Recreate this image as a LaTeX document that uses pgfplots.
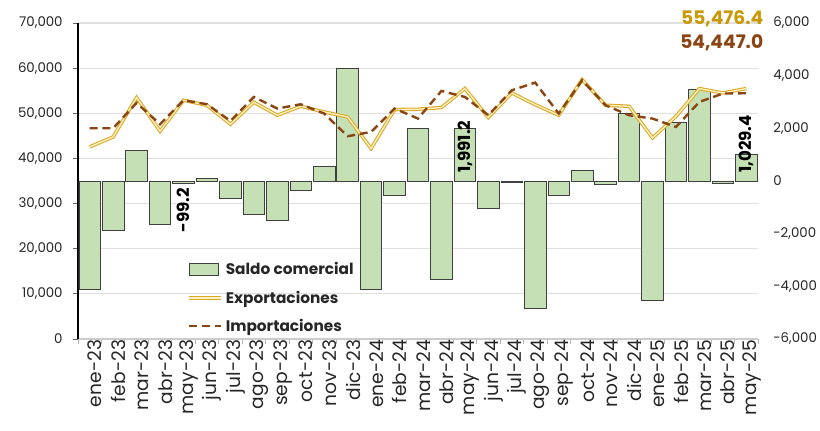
\documentclass[border=0pt]{standalone}
\usepackage{fontspec}
\setmainfont{Poppins}
\usepackage{pgfplots}
\pgfplotsset{compat=1.18}
\definecolor{barfill}{HTML}{C5E0B4}
\definecolor{baredge}{HTML}{404040}
\definecolor{expline}{HTML}{D9A92A}
\definecolor{expinner}{HTML}{FFF2C0}
\definecolor{explabel}{HTML}{C99A06}
\definecolor{impline}{HTML}{8B4513}
\definecolor{implabel}{HTML}{8B4513}

\pgfplotstableread{
x exp imp sal
0 42560 46690 -4100
1 44770 46690 -1890
2 53480 52300 1160
3 46030 47580 -1630
4 52890 52890 -99.2
5 51780 52000 90
6 47580 48310 -650
7 52450 53620 -1250
8 49570 51050 -1500
9 51560 52000 -360
10 50300 49940 570
11 49190 44920 4280
12 42200 45870 -4100
13 50830 51050 -560
14 50900 48830 2010
15 51270 54950 -3750
16 55480 53620 1991.2
17 49060 49570 -1050
18 54510 55100 -40
19 51900 56800 -4850
20 49570 49940 -560
21 57460 57310 390
22 51780 51780 -140
23 51560 49570 2580
24 44550 48830 -4550
25 49300 46980 2230
26 55480 52520 3470
27 54510 54370 -80
28 55476.4 54447.0 1029.4
}\datatable

\pgfplotsset{
  base/.style={
    scale only axis, width=510pt, height=237pt,
    xmin=-0.5, xmax=28.5, clip=false,
    tick label style={font=\fontsize{10}{12}\selectfont, text=black!85},
    /pgf/number format/.cd, 1000 sep={,}, assume math mode=true,
    /pgfplots/.cd,
    scaled y ticks=false,
  },
  lineleg/.style={legend image code/.code={\draw[##1] (0pt,0pt) -- (24pt,0pt);}},
}

\begin{document}
\begin{tikzpicture}
\useasboundingbox (-58.5pt,-68.25pt) rectangle (556.5pt,254.25pt);

% left axis: grid, axis line, ticks
\begin{axis}[base,
  ymin=0, ymax=70000, ytick={0,10000,...,70000},
  ymajorgrids, grid style={black!12, line width=0.9pt},
  axis x line*=bottom, axis y line*=left,
  y axis line style={black, line width=0.8pt},
  x axis line style={black!20, line width=0.9pt},
  xtick={-0.5,0.5,...,28.5}, xticklabels={},
  tick align=outside, major tick length=4pt,
  x tick style={black!30, line width=0.6pt},
  y tick style={black!60, line width=0.6pt},
  yticklabel style={xshift=-4pt},
]
\end{axis}

% right axis: bars
\begin{axis}[base,
  ymin=-6000, ymax=6000, ytick={-6000,-4000,...,6000},
  axis y line*=right, axis x line=none,
  y axis line style={draw=none}, y tick style={draw=none},
  yticklabel style={anchor=west, xshift=8pt},
  ybar, bar width=0.92,
]
\addplot[fill=barfill, draw=baredge, line width=0.6pt] table[x=x, y=sal] {\datatable};
\node[rotate=90, anchor=east, inner xsep=3pt, font=\bfseries\fontsize{12.5}{14}\selectfont] at (axis cs:4,-99.2) {-99.2};
\node[rotate=90, anchor=west, inner xsep=6pt, font=\bfseries\fontsize{12.5}{14}\selectfont] at (axis cs:16,0) {1,991.2};
\node[rotate=90, anchor=west, inner xsep=6pt, font=\bfseries\fontsize{12.5}{14}\selectfont] at (axis cs:28,0) {1,029.4};
\end{axis}

% left axis: lines, x labels, legend
\begin{axis}[base,
  ymin=0, ymax=70000, ytick=\empty,
  axis line style={draw=none},
  xtick={0,...,28},
  xticklabels={ene-23,feb-23,mar-23,abr-23,may-23,jun-23,jul-23,ago-23,sep-23,oct-23,nov-23,dic-23,ene-24,feb-24,mar-24,abr-24,may-24,jun-24,jul-24,ago-24,sep-24,oct-24,nov-24,dic-24,ene-25,feb-25,mar-25,abr-25,may-25},
  x tick style={draw=none},
  xticklabel style={rotate=90, anchor=east, font=\fontsize{14}{15}\selectfont, inner sep=0.5pt, yshift=-4pt},
  legend style={draw=none, fill=none, at={(0.155,0.26)}, anchor=north west,
    font=\bfseries\fontsize{11.5}{13}\selectfont, row sep=6.5pt, cells={anchor=west},
    text=black!85},
  legend cell align=left,
]
\addlegendimage{legend image code/.code={\draw[fill=barfill, draw=baredge, line width=0.6pt] (0pt,-4.5pt) rectangle (22pt,4.5pt);}}
\addlegendentry{Saldo comercial}
\addplot[draw=expline, double=expinner, double distance=1pt, line width=0.8pt, lineleg] table[x=x, y=exp] {\datatable};
\addlegendentry{Exportaciones}
\addplot[impline, line width=1.8pt, dash pattern=on 6pt off 3.5pt, lineleg] table[x=x, y=imp] {\datatable};
\addlegendentry{Importaciones}
\node[anchor=east, inner sep=0pt, text=explabel, font=\bfseries\fontsize{14}{16}\selectfont] at (rel axis cs:1.008,1.015) {55,476.4};
\node[anchor=east, inner sep=0pt, text=implabel, font=\bfseries\fontsize{14}{16}\selectfont] at (rel axis cs:1.008,0.938) {54,447.0};
\end{axis}
\end{tikzpicture}
\end{document}
